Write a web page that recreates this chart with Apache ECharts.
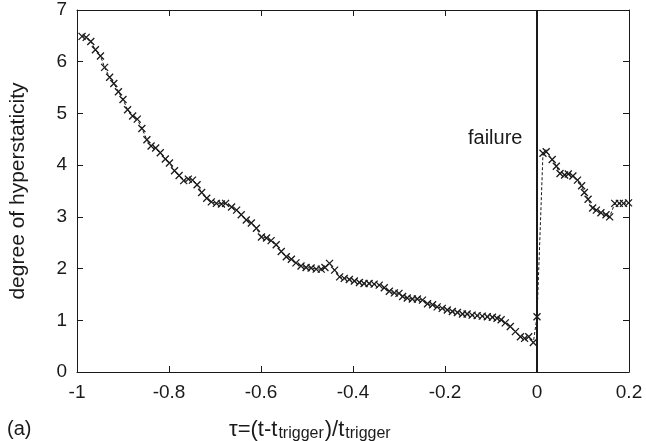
<!DOCTYPE html>
<html>
<head>
<meta charset="utf-8">
<script src="https://cdn.jsdelivr.net/npm/echarts@6/dist/echarts.min.js"></script>
<style>
html,body{margin:0;padding:0;background:#fff;}
#chart{width:646px;height:441px;}
</style>
</head>
<body>
<div id="chart"></div>
<script>
// tau values (x) and degree of hyperstaticity (y)
const tau = [
-0.989,-0.980,-0.970,-0.960,-0.949,-0.940,-0.929,-0.920,-0.910,-0.900,
-0.890,-0.879,-0.869,-0.859,-0.848,-0.839,-0.829,-0.819,-0.808,-0.799,
-0.788,-0.778,-0.768,-0.758,-0.749,-0.739,-0.729,-0.718,-0.708,-0.697,
-0.686,-0.677,-0.664,-0.653,-0.643,-0.632,-0.621,-0.610,-0.599,-0.588,
-0.578,-0.567,-0.556,-0.545,-0.534,-0.524,-0.513,-0.502,-0.491,-0.480,
-0.469,-0.461,-0.451,-0.440,-0.429,-0.419,-0.408,-0.397,-0.386,-0.376,
-0.365,-0.354,-0.343,-0.332,-0.321,-0.310,-0.300,-0.292,-0.282,-0.271,
-0.260,-0.249,-0.238,-0.227,-0.217,-0.206,-0.195,-0.184,-0.173,-0.162,
-0.152,-0.141,-0.130,-0.119,-0.108,-0.097,-0.087,-0.078,-0.069,-0.058,
-0.047,-0.036,-0.027,-0.018,-0.008,0.000,0.013,0.020,0.033,0.042,
0.050,0.060,0.068,0.078,0.088,0.097,0.103,0.111,0.121,0.129,
0.139,0.150,0.158,0.169,0.179,0.188,0.199
];
const hyper = [
6.49,6.47,6.39,6.23,6.11,5.89,5.70,5.58,5.42,5.27,
5.07,4.95,4.89,4.71,4.49,4.37,4.33,4.24,4.12,4.04,
3.89,3.80,3.70,3.73,3.71,3.62,3.47,3.36,3.29,3.26,
3.25,3.26,3.19,3.13,3.04,2.94,2.88,2.78,2.61,2.59,
2.54,2.46,2.33,2.23,2.18,2.11,2.05,2.02,2.01,1.99,
1.99,2.02,2.10,1.97,1.84,1.81,1.79,1.76,1.73,1.71,
1.71,1.70,1.68,1.63,1.56,1.53,1.52,1.46,1.43,1.41,
1.41,1.39,1.32,1.30,1.26,1.23,1.20,1.17,1.15,1.12,
1.12,1.10,1.09,1.08,1.07,1.06,1.04,1.01,0.95,0.88,
0.78,0.68,0.65,0.68,0.57,1.07,4.23,4.26,4.11,3.98,
3.84,3.81,3.83,3.79,3.71,3.60,3.47,3.34,3.17,3.13,
3.08,3.04,3.00,3.26,3.26,3.26,3.27
];
const failureTau = 0;
const xTicks = {min: -1, max: 0.2, interval: 0.2};
const yTicks = {min: 0, max: 7, interval: 1};
const xLabelParts = ['τ=(t-t', 'trigger', ')/t', 'trigger'];
const yLabel = 'degree of hyperstaticity';
const failureLabel = 'failure';
const panelLabel = '(a)';

const FONT = '"Liberation Sans", Arial, sans-serif';
const INK = '#1a1a1a';
const data = tau.map((t, i) => [t, hyper[i]]);

const chart = echarts.init(document.getElementById('chart'), null, {renderer: 'canvas'});

const axisCommon = {
  axisLine: {show: true, onZero: false, lineStyle: {color: INK, width: 1}},
  axisTick: {show: true, inside: true, length: 6, lineStyle: {color: INK, width: 1}},
  splitLine: {show: false}
};

chart.setOption({
  animation: false,
  backgroundColor: '#fff',
  grid: {left: 75, right: 17, top: 10, bottom: 69, containLabel: false},
  xAxis: [
    Object.assign({type: 'value', position: 'bottom', min: xTicks.min, max: xTicks.max, interval: xTicks.interval,
      axisLabel: {color: INK, fontFamily: FONT, fontSize: 19, margin: 11}}, axisCommon),
    Object.assign({type: 'value', position: 'top', min: xTicks.min, max: xTicks.max, interval: xTicks.interval,
      axisLabel: {show: false}}, axisCommon)
  ],
  yAxis: [
    Object.assign({type: 'value', position: 'left', min: yTicks.min, max: yTicks.max, interval: yTicks.interval,
      name: yLabel, nameLocation: 'middle', nameGap: 48, nameRotate: 90,
      nameTextStyle: {color: INK, fontFamily: FONT, fontSize: 21},
      axisLabel: {color: INK, fontFamily: FONT, fontSize: 19, margin: 10}}, axisCommon),
    Object.assign({type: 'value', position: 'right', min: yTicks.min, max: yTicks.max, interval: yTicks.interval,
      axisLabel: {show: false}}, axisCommon)
  ],
  series: [{
    type: 'line',
    data: data,
    xAxisIndex: 0,
    yAxisIndex: 0,
    symbol: 'path://M0,0L10,10M10,0L0,10',
    symbolSize: 7,
    showSymbol: true,
    showAllSymbol: true,
    lineStyle: {color: INK, width: 1, type: [3, 2]},
    itemStyle: {color: 'rgba(0,0,0,0)', borderColor: INK, borderWidth: 1.3},
    z: 3,
    markLine: {
      silent: true,
      symbol: ['none', 'none'],
      label: {show: false},
      lineStyle: {color: INK, width: 2, type: 'solid'},
      data: [{xAxis: failureTau}]
    }
  }],
  graphic: [
    {type: 'text', left: 468, top: 128,
      style: {text: failureLabel, fill: INK, font: '20px ' + FONT}},
    {type: 'text', left: 7, top: 419,
      style: {text: panelLabel, fill: INK, font: '20px ' + FONT}},
    {type: 'text', left: 229, top: 414,
      style: {
        text: '{m|' + xLabelParts[0] + '}{s|' + xLabelParts[1] + '}{m|' + xLabelParts[2] + '}{s|' + xLabelParts[3] + '}',
        rich: {
          m: {fontFamily: FONT, fontSize: 22, fill: INK, color: INK, lineHeight: 23, verticalAlign: 'top'},
          s: {fontFamily: FONT, fontSize: 16, fill: INK, color: INK, lineHeight: 16, verticalAlign: 'bottom', padding: [12, 1, 0, 1]}
        }
      }}
  ]
});
</script>
</body>
</html>
